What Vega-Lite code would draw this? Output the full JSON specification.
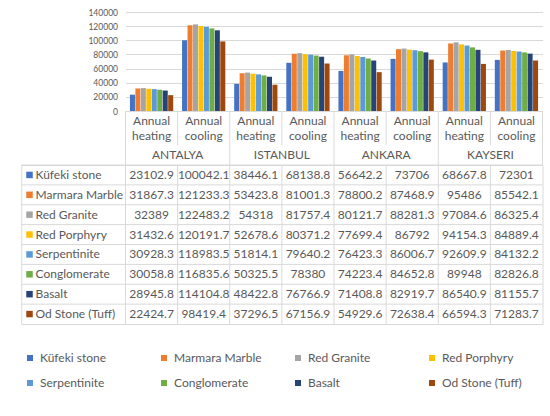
{
  "$schema": "https://vega.github.io/schema/vega-lite/v6.json",
  "padding": {"left": 20.25, "top": 8, "right": 0, "bottom": 0},
  "background": "white",
  "config": {
    "view": {"stroke": null},
    "font": "Lato",
    "text": {"color": "#595959", "fontSize": 12}
  },
  "datasets": {
    "vals": [
      {"city": "ANTALYA", "type": "Annual heating", "col": "ANTALYA heating", "material": "Küfeki stone", "value": 23102.9},
      {"city": "ANTALYA", "type": "Annual cooling", "col": "ANTALYA cooling", "material": "Küfeki stone", "value": 100042.1},
      {"city": "ISTANBUL", "type": "Annual heating", "col": "ISTANBUL heating", "material": "Küfeki stone", "value": 38446.1},
      {"city": "ISTANBUL", "type": "Annual cooling", "col": "ISTANBUL cooling", "material": "Küfeki stone", "value": 68138.8},
      {"city": "ANKARA", "type": "Annual heating", "col": "ANKARA heating", "material": "Küfeki stone", "value": 56642.2},
      {"city": "ANKARA", "type": "Annual cooling", "col": "ANKARA cooling", "material": "Küfeki stone", "value": 73706},
      {"city": "KAYSERI", "type": "Annual heating", "col": "KAYSERI heating", "material": "Küfeki stone", "value": 68667.8},
      {"city": "KAYSERI", "type": "Annual cooling", "col": "KAYSERI cooling", "material": "Küfeki stone", "value": 72301},
      {"city": "ANTALYA", "type": "Annual heating", "col": "ANTALYA heating", "material": "Marmara Marble", "value": 31867.3},
      {"city": "ANTALYA", "type": "Annual cooling", "col": "ANTALYA cooling", "material": "Marmara Marble", "value": 121233.3},
      {"city": "ISTANBUL", "type": "Annual heating", "col": "ISTANBUL heating", "material": "Marmara Marble", "value": 53423.8},
      {"city": "ISTANBUL", "type": "Annual cooling", "col": "ISTANBUL cooling", "material": "Marmara Marble", "value": 81001.3},
      {"city": "ANKARA", "type": "Annual heating", "col": "ANKARA heating", "material": "Marmara Marble", "value": 78800.2},
      {"city": "ANKARA", "type": "Annual cooling", "col": "ANKARA cooling", "material": "Marmara Marble", "value": 87468.9},
      {"city": "KAYSERI", "type": "Annual heating", "col": "KAYSERI heating", "material": "Marmara Marble", "value": 95486},
      {"city": "KAYSERI", "type": "Annual cooling", "col": "KAYSERI cooling", "material": "Marmara Marble", "value": 85542.1},
      {"city": "ANTALYA", "type": "Annual heating", "col": "ANTALYA heating", "material": "Red Granite", "value": 32389},
      {"city": "ANTALYA", "type": "Annual cooling", "col": "ANTALYA cooling", "material": "Red Granite", "value": 122483.2},
      {"city": "ISTANBUL", "type": "Annual heating", "col": "ISTANBUL heating", "material": "Red Granite", "value": 54318},
      {"city": "ISTANBUL", "type": "Annual cooling", "col": "ISTANBUL cooling", "material": "Red Granite", "value": 81757.4},
      {"city": "ANKARA", "type": "Annual heating", "col": "ANKARA heating", "material": "Red Granite", "value": 80121.7},
      {"city": "ANKARA", "type": "Annual cooling", "col": "ANKARA cooling", "material": "Red Granite", "value": 88281.3},
      {"city": "KAYSERI", "type": "Annual heating", "col": "KAYSERI heating", "material": "Red Granite", "value": 97084.6},
      {"city": "KAYSERI", "type": "Annual cooling", "col": "KAYSERI cooling", "material": "Red Granite", "value": 86325.4},
      {"city": "ANTALYA", "type": "Annual heating", "col": "ANTALYA heating", "material": "Red Porphyry", "value": 31432.6},
      {"city": "ANTALYA", "type": "Annual cooling", "col": "ANTALYA cooling", "material": "Red Porphyry", "value": 120191.7},
      {"city": "ISTANBUL", "type": "Annual heating", "col": "ISTANBUL heating", "material": "Red Porphyry", "value": 52678.6},
      {"city": "ISTANBUL", "type": "Annual cooling", "col": "ISTANBUL cooling", "material": "Red Porphyry", "value": 80371.2},
      {"city": "ANKARA", "type": "Annual heating", "col": "ANKARA heating", "material": "Red Porphyry", "value": 77699.4},
      {"city": "ANKARA", "type": "Annual cooling", "col": "ANKARA cooling", "material": "Red Porphyry", "value": 86792},
      {"city": "KAYSERI", "type": "Annual heating", "col": "KAYSERI heating", "material": "Red Porphyry", "value": 94154.3},
      {"city": "KAYSERI", "type": "Annual cooling", "col": "KAYSERI cooling", "material": "Red Porphyry", "value": 84889.4},
      {"city": "ANTALYA", "type": "Annual heating", "col": "ANTALYA heating", "material": "Serpentinite", "value": 30928.3},
      {"city": "ANTALYA", "type": "Annual cooling", "col": "ANTALYA cooling", "material": "Serpentinite", "value": 118983.5},
      {"city": "ISTANBUL", "type": "Annual heating", "col": "ISTANBUL heating", "material": "Serpentinite", "value": 51814.1},
      {"city": "ISTANBUL", "type": "Annual cooling", "col": "ISTANBUL cooling", "material": "Serpentinite", "value": 79640.2},
      {"city": "ANKARA", "type": "Annual heating", "col": "ANKARA heating", "material": "Serpentinite", "value": 76423.3},
      {"city": "ANKARA", "type": "Annual cooling", "col": "ANKARA cooling", "material": "Serpentinite", "value": 86006.7},
      {"city": "KAYSERI", "type": "Annual heating", "col": "KAYSERI heating", "material": "Serpentinite", "value": 92609.9},
      {"city": "KAYSERI", "type": "Annual cooling", "col": "KAYSERI cooling", "material": "Serpentinite", "value": 84132.2},
      {"city": "ANTALYA", "type": "Annual heating", "col": "ANTALYA heating", "material": "Conglomerate", "value": 30058.8},
      {"city": "ANTALYA", "type": "Annual cooling", "col": "ANTALYA cooling", "material": "Conglomerate", "value": 116835.6},
      {"city": "ISTANBUL", "type": "Annual heating", "col": "ISTANBUL heating", "material": "Conglomerate", "value": 50325.5},
      {"city": "ISTANBUL", "type": "Annual cooling", "col": "ISTANBUL cooling", "material": "Conglomerate", "value": 78380},
      {"city": "ANKARA", "type": "Annual heating", "col": "ANKARA heating", "material": "Conglomerate", "value": 74223.4},
      {"city": "ANKARA", "type": "Annual cooling", "col": "ANKARA cooling", "material": "Conglomerate", "value": 84652.8},
      {"city": "KAYSERI", "type": "Annual heating", "col": "KAYSERI heating", "material": "Conglomerate", "value": 89948},
      {"city": "KAYSERI", "type": "Annual cooling", "col": "KAYSERI cooling", "material": "Conglomerate", "value": 82826.8},
      {"city": "ANTALYA", "type": "Annual heating", "col": "ANTALYA heating", "material": "Basalt", "value": 28945.8},
      {"city": "ANTALYA", "type": "Annual cooling", "col": "ANTALYA cooling", "material": "Basalt", "value": 114104.8},
      {"city": "ISTANBUL", "type": "Annual heating", "col": "ISTANBUL heating", "material": "Basalt", "value": 48422.8},
      {"city": "ISTANBUL", "type": "Annual cooling", "col": "ISTANBUL cooling", "material": "Basalt", "value": 76766.9},
      {"city": "ANKARA", "type": "Annual heating", "col": "ANKARA heating", "material": "Basalt", "value": 71408.8},
      {"city": "ANKARA", "type": "Annual cooling", "col": "ANKARA cooling", "material": "Basalt", "value": 82919.7},
      {"city": "KAYSERI", "type": "Annual heating", "col": "KAYSERI heating", "material": "Basalt", "value": 86540.9},
      {"city": "KAYSERI", "type": "Annual cooling", "col": "KAYSERI cooling", "material": "Basalt", "value": 81155.7},
      {"city": "ANTALYA", "type": "Annual heating", "col": "ANTALYA heating", "material": "Od Stone (Tuff)", "value": 22424.7},
      {"city": "ANTALYA", "type": "Annual cooling", "col": "ANTALYA cooling", "material": "Od Stone (Tuff)", "value": 98419.4},
      {"city": "ISTANBUL", "type": "Annual heating", "col": "ISTANBUL heating", "material": "Od Stone (Tuff)", "value": 37296.5},
      {"city": "ISTANBUL", "type": "Annual cooling", "col": "ISTANBUL cooling", "material": "Od Stone (Tuff)", "value": 67156.9},
      {"city": "ANKARA", "type": "Annual heating", "col": "ANKARA heating", "material": "Od Stone (Tuff)", "value": 54929.6},
      {"city": "ANKARA", "type": "Annual cooling", "col": "ANKARA cooling", "material": "Od Stone (Tuff)", "value": 72638.4},
      {"city": "KAYSERI", "type": "Annual heating", "col": "KAYSERI heating", "material": "Od Stone (Tuff)", "value": 66594.3},
      {"city": "KAYSERI", "type": "Annual cooling", "col": "KAYSERI cooling", "material": "Od Stone (Tuff)", "value": 71283.7}
    ]
  },
  "bounds": "flush",
  "spacing": 0,
  "resolve": {"scale": {"color": "shared"}},
  "vconcat": [
    {
      "width": 521.25,
      "height": 99,
      "data": {"name": "vals"},
      "mark": {"type": "bar"},
      "encoding": {
        "x": {
          "field": "col",
          "type": "nominal",
          "scale": {
            "type": "band",
            "domain": ["ANTALYA heating", "ANTALYA cooling", "ISTANBUL heating", "ISTANBUL cooling", "ANKARA heating", "ANKARA cooling", "KAYSERI heating", "KAYSERI cooling"],
            "range": [104.25, 521.25],
            "paddingInner": 0.17,
            "paddingOuter": 0.085
          },
          "axis": null
        },
        "xOffset": {
          "field": "material",
          "type": "nominal",
          "scale": {
            "domain": ["Küfeki stone", "Marmara Marble", "Red Granite", "Red Porphyry", "Serpentinite", "Conglomerate", "Basalt", "Od Stone (Tuff)"],
            "paddingInner": 0.08,
            "paddingOuter": 0
          }
        },
        "y": {
          "field": "value",
          "type": "quantitative",
          "scale": {"domain": [0, 140000]},
          "axis": {
            "title": null,
            "values": [0, 20000, 40000, 60000, 80000, 100000, 120000, 140000],
            "format": "d",
            "grid": true,
            "gridColor": "#d9d9d9",
            "domain": false,
            "ticks": false,
            "labelPadding": -96.25,
            "labelFontSize": 8.5,
            "labelColor": "#595959"
          }
        },
        "color": {
          "field": "material",
          "type": "nominal",
          "scale": {
            "domain": ["Küfeki stone", "Marmara Marble", "Red Granite", "Red Porphyry", "Serpentinite", "Conglomerate", "Basalt", "Od Stone (Tuff)"],
            "range": ["#4472C4", "#ED7D31", "#A5A5A5", "#FFC000", "#5B9BD5", "#70AD47", "#264478", "#9E480E"]
          },
          "legend": {
            "title": null,
            "orient": "none",
            "direction": "horizontal",
            "legendX": 2.75,
            "legendY": 340,
            "columns": 4,
            "gridAlign": "all",
            "symbolType": "square",
            "symbolSize": 36,
            "symbolStrokeWidth": 0,
            "symbolOpacity": 1,
            "labelFontSize": 12,
            "labelColor": "#595959",
            "labelOffset": 4,
            "columnPadding": 30,
            "rowPadding": 13
          }
        }
      }
    },
    {
      "width": 521.25,
      "height": 34,
      "data": {"name": "vals"},
      "transform": [{"aggregate": [{"op": "count", "as": "n"}], "groupby": ["col", "type"]}],
      "layer": [
        {
          "mark": {"type": "text", "lineBreak": " ", "lineHeight": 15, "fontSize": 12, "dy": -7.5},
          "encoding": {
            "x": {
              "field": "col",
              "type": "nominal",
              "scale": {
                "type": "band",
                "domain": ["_a", "_b", "ANTALYA heating", "ANTALYA cooling", "ISTANBUL heating", "ISTANBUL cooling", "ANKARA heating", "ANKARA cooling", "KAYSERI heating", "KAYSERI cooling"],
                "paddingInner": 0,
                "paddingOuter": 0
              },
              "axis": null
            },
            "text": {"field": "type"}
          }
        },
        {
          "mark": {"type": "rule", "color": "#d9d9d9"},
          "encoding": {"x": {"field": "col", "type": "nominal", "bandPosition": 0}}
        },
        {
          "transform": [{"filter": "datum.col === 'KAYSERI cooling'"}],
          "mark": {"type": "rule", "color": "#d9d9d9"},
          "encoding": {"x": {"field": "col", "type": "nominal", "bandPosition": 1}}
        }
      ]
    },
    {
      "width": 521.25,
      "height": 20,
      "data": {"name": "vals"},
      "transform": [{"aggregate": [{"op": "count", "as": "n"}], "groupby": ["city"]}],
      "layer": [
        {
          "mark": {"type": "text", "fontSize": 12},
          "encoding": {
            "x": {
              "field": "city",
              "type": "nominal",
              "scale": {
                "type": "band",
                "domain": ["_a", "ANTALYA", "ISTANBUL", "ANKARA", "KAYSERI"],
                "paddingInner": 0,
                "paddingOuter": 0
              },
              "axis": null
            },
            "text": {"field": "city"}
          }
        },
        {
          "mark": {"type": "rule", "color": "#d9d9d9"},
          "encoding": {"x": {"field": "city", "type": "nominal", "bandPosition": 0}}
        },
        {
          "transform": [{"filter": "datum.city === 'KAYSERI'"}],
          "mark": {"type": "rule", "color": "#d9d9d9"},
          "encoding": {"x": {"field": "city", "type": "nominal", "bandPosition": 1}}
        }
      ]
    },
    {
      "width": 521.25,
      "height": 159,
      "view": {"stroke": "#d9d9d9"},
      "data": {"name": "vals"},
      "encoding": {
        "x": {
          "field": "col",
          "type": "nominal",
          "scale": {
            "type": "band",
            "domain": ["_a", "_b", "ANTALYA heating", "ANTALYA cooling", "ISTANBUL heating", "ISTANBUL cooling", "ANKARA heating", "ANKARA cooling", "KAYSERI heating", "KAYSERI cooling"],
            "paddingInner": 0,
            "paddingOuter": 0
          },
          "axis": null
        },
        "y": {
          "field": "material",
          "type": "nominal",
          "scale": {
            "type": "band",
            "domain": ["Küfeki stone", "Marmara Marble", "Red Granite", "Red Porphyry", "Serpentinite", "Conglomerate", "Basalt", "Od Stone (Tuff)"],
            "paddingInner": 0,
            "paddingOuter": 0
          },
          "axis": null
        }
      },
      "layer": [
        {
          "transform": [{"aggregate": [{"op": "count", "as": "n"}], "groupby": ["col"]}],
          "mark": {"type": "rule", "color": "#d9d9d9"},
          "encoding": {"x": {"field": "col", "type": "nominal", "bandPosition": 0}, "y": null}
        },
        {
          "transform": [{"aggregate": [{"op": "count", "as": "n"}], "groupby": ["material"]}],
          "mark": {"type": "rule", "color": "#d9d9d9"},
          "encoding": {"y": {"field": "material", "type": "nominal", "bandPosition": 0}, "x": null}
        },
        {
          "mark": {"type": "text", "fontSize": 12},
          "encoding": {"text": {"field": "value", "type": "nominal"}}
        },
        {
          "transform": [{"aggregate": [{"op": "count", "as": "n"}], "groupby": ["material"]}],
          "mark": {"type": "square", "size": 42, "opacity": 1, "xOffset": -17.8},
          "encoding": {
            "x": {"datum": "_a"},
            "color": {"field": "material", "type": "nominal"}
          }
        },
        {
          "transform": [{"aggregate": [{"op": "count", "as": "n"}], "groupby": ["material"]}],
          "mark": {"type": "text", "align": "left", "dx": -11.8, "fontSize": 12},
          "encoding": {
            "x": {"datum": "_a"},
            "text": {"field": "material"}
          }
        }
      ]
    }
  ]
}
